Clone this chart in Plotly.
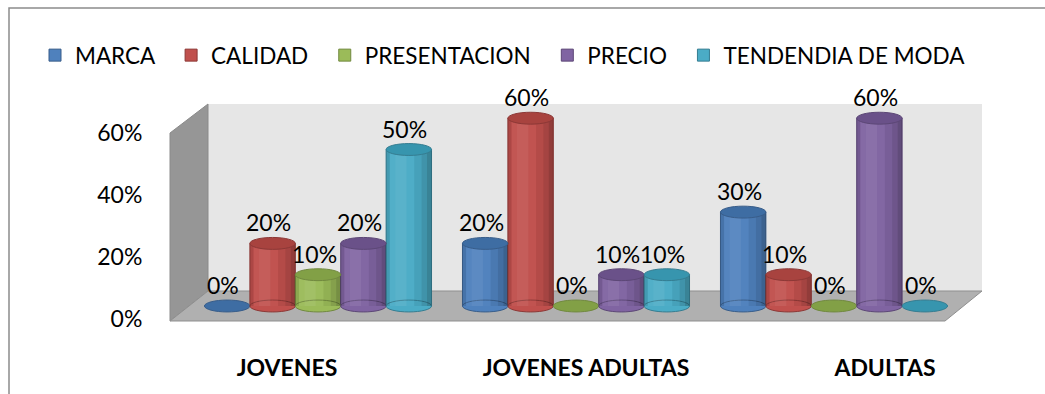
import plotly.graph_objects as go

categories = ["JOVENES", "JOVENES ADULTAS", "ADULTAS"]
series_names = ["MARCA", "CALIDAD", "PRESENTACION", "PRECIO", "TENDENDIA DE MODA"]
marca = [0, 20, 30]
calidad = [20, 60, 10]
presentacion = [10, 0, 0]
precio = [20, 10, 60]
tendencia = [50, 10, 0]
y_ticks = [0, 20, 40, 60]

series_values = [marca, calidad, presentacion, precio, tendencia]
body_colors = ["#4F81BD", "#C0504D", "#9BBB59", "#8064A2", "#4BACC6"]
top_colors = ["#3E6DA3", "#A8433F", "#82A046", "#6A5189", "#3795AE"]
edge_colors = ["#385D8A", "#8C3836", "#71893F", "#5C4776", "#357D91"]

W, H = 1045, 394
L, R, T, B = 170, 982, 104, 321
FONT = "Lato"
FS = 23

def px(x):
    return (x - L) / (R - L)

def py(y):
    return (B - y) / (B - T)

fig = go.Figure()

NBSP = "\u00a0"
for j, (name, vals, c, e) in enumerate(zip(series_names, series_values, body_colors, edge_colors)):
    pad = NBSP * 2 if j < len(series_names) - 1 else ""
    fig.add_trace(go.Bar(
        x=categories, y=vals, name=name + pad,
        marker=dict(color=c, line=dict(color=e, width=1)),
        hovertemplate=name + ": %{x} %{y}%<extra></extra>",
    ))

# invisible trace carrying the front category axis
fig.add_trace(go.Scatter(x=categories, y=[0, 0, 0], xaxis="x2", yaxis="y2",
                         mode="markers", marker=dict(opacity=0),
                         showlegend=False, hoverinfo="skip"))

n = len(series_names)
bargap = 0.12
bw = (1 - bargap) / n
ry = 1.9  # ellipse half-height in data units

shapes = []
# back wall
shapes.append(dict(type="rect", xref="paper", yref="paper", layer="below",
                   x0=px(208), x1=px(982), y0=py(291), y1=py(104),
                   fillcolor="#E6E6E6", line=dict(width=0)))
# left wall
shapes.append(dict(type="path", xref="paper", yref="paper", layer="below",
                   path=f"M {px(170)} {py(133)} L {px(208)} {py(104)} L {px(208)} {py(291)} L {px(170)} {py(321)} Z",
                   fillcolor="#969696", line=dict(color="#8A8A8A", width=1)))
# floor
shapes.append(dict(type="path", xref="paper", yref="paper", layer="below",
                   path=f"M {px(170)} {py(321)} L {px(208)} {py(291)} L {px(982)} {py(291)} L {px(945)} {py(321)} Z",
                   fillcolor="#B0B0B0", line=dict(color="#8F8F8F", width=1)))

# cylinder shading profile: (start, end, rgba overlay)
shade = [
    (0.00, 0.08, "rgba(0,0,0,0.10)"),
    (0.08, 0.20, "rgba(255,255,255,0.04)"),
    (0.20, 0.45, "rgba(255,255,255,0.08)"),
    (0.45, 0.62, "rgba(255,255,255,0.02)"),
    (0.62, 0.78, "rgba(0,0,0,0.06)"),
    (0.78, 0.90, "rgba(0,0,0,0.14)"),
    (0.90, 1.00, "rgba(0,0,0,0.24)"),
]

annotations = []
for k, (vals, c, tc, e) in enumerate(zip(series_values, body_colors, top_colors, edge_colors)):
    for i, v in enumerate(vals):
        xc = i + (k - (n - 1) / 2) * bw
        x0, x1 = xc - bw / 2, xc + bw / 2
        if v > 0:
            shapes.append(dict(type="circle", xref="x", yref="y", layer="above",
                               x0=x0, x1=x1, y0=-ry, y1=ry,
                               fillcolor=c, line=dict(color=e, width=1)))
            for s0, s1, col in shade:
                shapes.append(dict(type="rect", xref="x", yref="y", layer="above",
                                   x0=x0 + s0 * bw, x1=x0 + s1 * bw, y0=0, y1=v,
                                   fillcolor=col, line=dict(width=0)))
        shapes.append(dict(type="circle", xref="x", yref="y", layer="above",
                           x0=x0, x1=x1, y0=v - ry, y1=v + ry,
                           fillcolor=tc, line=dict(color=e, width=1)))
        annotations.append(dict(x=xc, y=v, xref="x", yref="y", text=f"{v}%",
                                showarrow=False, yshift=21, xshift=-4,
                                font=dict(family=FONT, size=FS, color="#000000")))

# outer chart border
shapes.append(dict(type="rect", xref="paper", yref="paper", layer="above",
                   x0=px(9), x1=px(1100), y0=py(8), y1=py(450),
                   line=dict(color="#8C8C8C", width=1.5), fillcolor="rgba(0,0,0,0)"))

fig.update_layout(
    width=W, height=H,
    margin=dict(l=L, r=W - R, t=T, b=H - B),
    paper_bgcolor="#FFFFFF",
    plot_bgcolor="rgba(0,0,0,0)",
    barmode="group", bargap=bargap, bargroupgap=0,
    font=dict(family=FONT, size=FS, color="#000000"),
    shapes=shapes,
    annotations=annotations,
    legend=dict(orientation="h", x=px(35), xanchor="left", y=py(34), yanchor="top",
                font=dict(family=FONT, size=22.5, color="#000000"),
                itemwidth=30, traceorder="normal", bgcolor="rgba(0,0,0,0)"),
    xaxis=dict(type="category", range=[(L - 318) / 258, (R - 318) / 258],
               showticklabels=False, showgrid=False, zeroline=False, showline=False),
    yaxis=dict(range=[(306 - B) / 3.13, (306 - T) / 3.13], showticklabels=False,
               showgrid=False, zeroline=False, showline=False),
    xaxis2=dict(type="category", overlaying="x", anchor="y2", side="bottom",
                range=[(L - 287) / 299, (R - 287) / 299],
                showgrid=False, zeroline=False, showline=False,
                ticks="outside", ticklen=26, tickcolor="rgba(0,0,0,0)",
                tickfont=dict(family=FONT, size=FS, color="#000000", weight="bold")),
    yaxis2=dict(overlaying="y", anchor="x2", side="left",
                range=[(319 - B) / 3.1, (319 - T) / 3.1],
                tickvals=y_ticks, ticktext=[f"{t}%" for t in y_ticks],
                showgrid=False, zeroline=False, showline=False,
                ticks="outside", ticklen=22, tickcolor="rgba(0,0,0,0)",
                tickfont=dict(family=FONT, size=FS, color="#000000")),
)

fig.write_html("out.html")
